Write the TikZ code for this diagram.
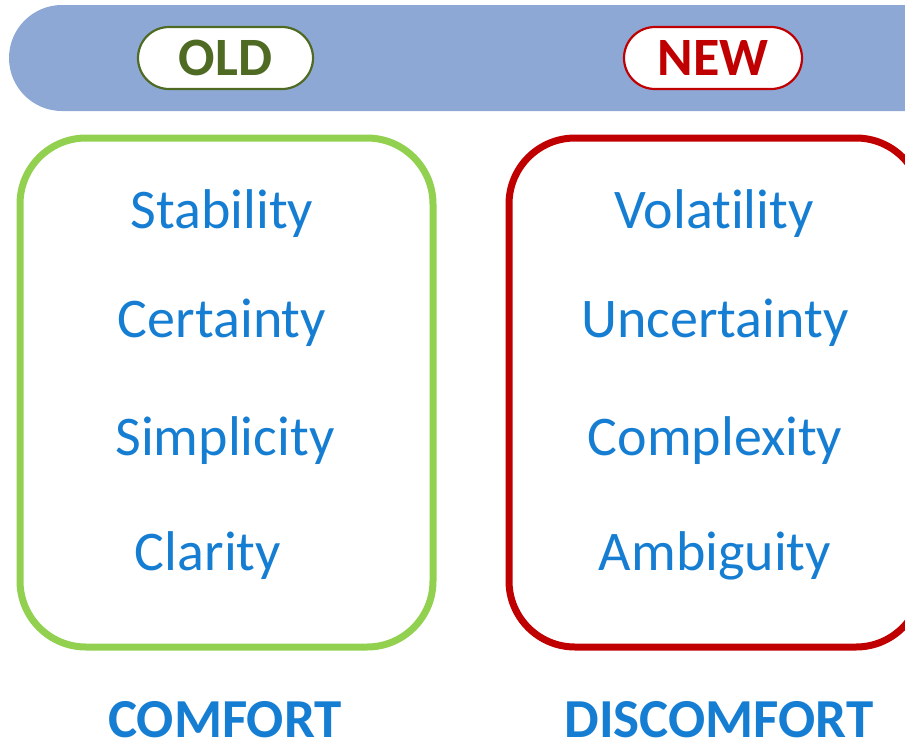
\documentclass[tikz,border=0pt]{standalone}
\usepackage{fontspec}
\setmainfont{Carlito}[RawFeature=-liga]
\begin{document}
\definecolor{barblue}{RGB}{142,168,214}
\definecolor{wordblue}{RGB}{22,126,210}
\definecolor{oldgreen}{RGB}{79,106,34}
\definecolor{boxgreen}{RGB}{146,208,80}
\definecolor{newred}{RGB}{192,0,0}
\begin{tikzpicture}[x=1pt,y=-1pt,
  pill/.style={draw,fill=white,line width=2.2pt,rounded corners=31pt},
  tag/.style={font=\fontsize{54}{60}\selectfont\bfseries},
  frame/.style={line width=7pt,rounded corners=66pt},
  word/.style={anchor=base,text=wordblue,font=\fontsize{56}{62}\selectfont},
  caption/.style={anchor=base,inner sep=0pt,text=wordblue,font=\fontsize{55}{62}\selectfont\bfseries}]
\useasboundingbox (0,0) rectangle (905,742);
% header band
\fill[barblue] (9,5) [rounded corners=53pt] rectangle (980,111);
% OLD / NEW tags
\draw[pill,draw=oldgreen] (138,27) rectangle (313,89);
\node[tag,text=oldgreen] (old) at (225.5,58) {OLD};
\draw[pill,draw=newred] (624,27) rectangle (802,89);
\node[tag,text=newred] (new) at (713,58) {NEW};
% the two frames
\draw[frame,draw=boxgreen] (20,138) rectangle (433,647);
\draw[frame,draw=newred] (509,138) rectangle (922,647);
% left column
\node[word] (stab) at (222,228) {Stability};
\node[word] (cert) at (222,337) {Certainty};
\node[word] (simp) at (225,455) {Simplicity};
\node[word] (clar) at (208,570) {Clarity};
% right column
\node[word] (vola) at (714,228) {Volatility};
\node[word] (unce) at (715,337) {Uncertainty};
\node[word] (comp) at (715,455) {Complexity};
\node[word] (ambi) at (715,570) {Ambiguity};
% captions
\node[caption] (comfort) at (225,737) {COMFORT};
\node[caption] (discomfort) at (719,737) {DISCOMFORT};
\end{tikzpicture}
\end{document}
